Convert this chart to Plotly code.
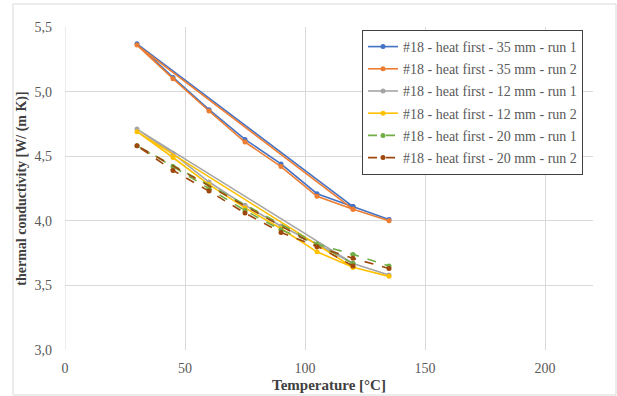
import plotly.graph_objects as go

# measurement order (series start at 120 °C, then 30 → 135 °C)
temperature = [120, 30, 45, 60, 75, 90, 105, 120, 135]

k_35mm_run1 = [4.11, 5.37, 5.11, 4.86, 4.63, 4.44, 4.21, 4.11, 4.01]
k_35mm_run2 = [4.09, 5.36, 5.10, 4.85, 4.61, 4.42, 4.19, 4.09, 4.00]
k_12mm_run1 = [3.67, 4.71, 4.52, 4.30, 4.12, 3.96, 3.82, 3.67, 3.58]
k_12mm_run2 = [3.64, 4.69, 4.49, 4.28, 4.10, 3.94, 3.76, 3.64, 3.57]
k_20mm_run1 = [3.67, 4.58, 4.42, 4.25, 4.08, 3.93, 3.82, 3.74, 3.65]
k_20mm_run2 = [3.65, 4.58, 4.39, 4.23, 4.06, 3.91, 3.80, 3.71, 3.63]

series_names = [
    "#18 - heat first - 35 mm - run 1",
    "#18 - heat first - 35 mm - run 2",
    "#18 - heat first - 12 mm - run 1",
    "#18 - heat first - 12 mm - run 2",
    "#18 - heat first - 20 mm - run 1",
    "#18 - heat first - 20 mm - run 2",
]
series_values = [k_35mm_run1, k_35mm_run2, k_12mm_run1, k_12mm_run2, k_20mm_run1, k_20mm_run2]
colors = ["#4472C4", "#ED7D31", "#A5A5A5", "#FFC000", "#70AD47", "#9E480E"]
dashes = ["solid", "solid", "solid", "solid", "dash", "dash"]

fig = go.Figure()
for i, (name, vals, col, dsh) in enumerate(zip(series_names, series_values, colors, dashes)):
    fig.add_trace(go.Scatter(
        x=temperature, y=vals, name=name, mode="lines+markers",
        line=dict(color=col, width=1.6, dash=dsh),
        marker=dict(color=col, size=5, symbol="circle"),
        legendgroup=f"g{i}",
    ))

font_family = "Liberation Serif"
L, R, T, B = 65, 24, 27, 46
W, H = 617, 396
pw, ph = W - L - R, H - T - B

fig.update_layout(
    width=W, height=H,
    margin=dict(l=L, r=R, t=T, b=B),
    paper_bgcolor="white", plot_bgcolor="white",
    separators=",.",
    font=dict(family=font_family, size=14, color="#595959"),
    showlegend=True,
    legend=dict(
        x=(362 - L) / pw, y=1 - (30 - T) / ph, xanchor="left", yanchor="top",
        bordercolor="#404040", borderwidth=1, bgcolor="white",
        font=dict(family=font_family, size=14, color="#595959"),
        traceorder="grouped", tracegroupgap=1,
    ),
    xaxis=dict(
        range=[0, 220], dtick=50, tick0=0,
        showgrid=True, gridcolor="#D9D9D9", gridwidth=1,
        zeroline=False, showline=False, ticks="", automargin=False,
        ticklabelstandoff=8,
        tickfont=dict(family=font_family, size=14, color="#595959"),
        title=dict(text="<b>Temperature [°C]</b>", standoff=4,
                   font=dict(family=font_family, size=15, color="#404040")),
    ),
    yaxis=dict(
        range=[3, 5.5], dtick=0.5, tick0=3, tickformat=".1f",
        showgrid=True, gridcolor="#D9D9D9", gridwidth=1,
        zeroline=False, showline=False, ticks="", automargin=False,
        ticklabelstandoff=12,
        tickfont=dict(family=font_family, size=14, color="#595959"),
        title=dict(text="<b>thermal conductivity [W/ (m K)]</b>", standoff=4,
                   font=dict(family=font_family, size=14, color="#404040")),
    ),
    shapes=[
        dict(type="rect", xref="paper", yref="paper",
             x0=(13 - L) / pw, x1=(616 - L) / pw,
             y0=(H - B - 395) / ph, y1=(H - B - 4) / ph,
             line=dict(color="#D9D9D9", width=1), fillcolor="rgba(0,0,0,0)",
             layer="below"),
        dict(type="line", xref="x", yref="paper", x0=0, x1=0, y0=0, y1=1,
             line=dict(color="#D9D9D9", width=1), layer="below"),
    ],
)

fig.write_html(
    "out.html",
    config={"displayModeBar": False},
    post_script="document.body.style.margin='0';document.body.style.padding='0';",
)
